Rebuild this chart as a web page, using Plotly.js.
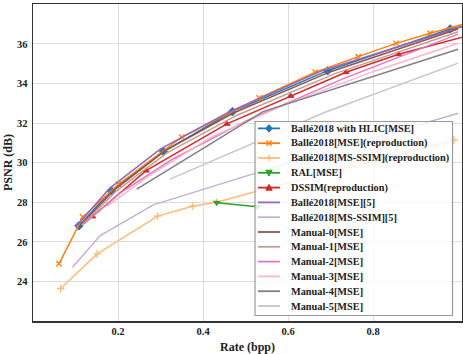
<!DOCTYPE html>
<html>
<head>
<meta charset="utf-8">
<script src="https://cdn.plot.ly/plotly-3.0.1.min.js"></script>
<style>
  html, body { margin: 0; padding: 0; background: #fff; }
  #chart { width: 463px; height: 354px; }
</style>
</head>
<body>
<div id="chart"></div>
<script>
// rate (bpp) / PSNR (dB) per method
const hlicRate = [0.108, 0.184, 0.307, 0.469, 0.693, 0.981, 1.05];
const hlicPsnr = [26.81, 28.58, 30.56, 32.58, 34.65, 36.76, 37.05];

const balleMseRate = [0.061, 0.117, 0.201, 0.350, 0.532, 0.664, 0.765, 0.854, 0.934, 1.03];
const balleMsePsnr = [24.89, 27.25, 28.91, 31.29, 33.27, 34.57, 35.36, 36.03, 36.54, 37.1];

const balleSsimRate = [0.065, 0.151, 0.293, 0.375, 0.432, 0.55, 0.75, 0.99];
const balleSsimPsnr = [23.64, 25.39, 27.30, 27.80, 28.00, 28.7, 29.8, 31.15];

const ralRate = [0.432, 0.528];
const ralPsnr = [27.98, 27.78];

const dssimRate = [0.140, 0.266, 0.456, 0.606, 0.736, 0.860, 1.02];
const dssimPsnr = [27.28, 29.60, 31.96, 33.37, 34.57, 35.48, 36.4];

const ref5MseRate = [0.100, 0.180, 0.300, 0.460, 0.680, 1.02];
const ref5MsePsnr = [26.75, 28.70, 30.70, 32.55, 34.65, 36.95];

const ref5SsimRate = [0.093, 0.158, 0.283, 0.55, 1.0];
const ref5SsimPsnr = [24.72, 26.32, 27.87, 29.65, 32.5];

const manual0Rate = [0.110, 0.190, 0.310, 0.470, 0.700, 1.0];
const manual0Psnr = [26.80, 28.60, 30.60, 32.50, 34.60, 36.76];

const manual1Rate = [0.115, 0.195, 0.315, 0.480, 0.710, 1.0];
const manual1Psnr = [26.85, 28.55, 30.50, 32.40, 34.50, 36.62];

const manual2Rate = [0.120, 0.200, 0.330, 0.500, 0.730, 1.0];
const manual2Psnr = [26.90, 28.40, 30.20, 32.10, 34.25, 36.50];

const manual3Rate = [0.173, 0.270, 0.420, 0.600, 0.800, 1.0];
const manual3Psnr = [27.78, 29.30, 31.30, 33.00, 34.60, 36.04];

const manual4Rate = [0.244, 0.541, 1.0];
const manual4Psnr = [28.66, 32.58, 35.73];

const manual5Rate = [0.322, 0.687, 1.0];
const manual5Psnr = [29.17, 32.55, 35.03];

const serif = "'Liberation Serif', 'Times New Roman', serif";
const ink = "#222222";

// name, x, y, color, marker symbol (null = plain line)
const methods = [
  ["Ballé2018 with HLIC[MSE]", hlicRate, hlicPsnr, "#1f77b4", "diamond"],
  ["Ballé2018[MSE](reproduction)", balleMseRate, balleMsePsnr, "#ff7f0e", "x"],
  ["Ballé2018[MS-SSIM](reproduction)", balleSsimRate, balleSsimPsnr, "#ffbb78", "plus"],
  ["RAL[MSE]", ralRate, ralPsnr, "#2ca02c", "triangle-down"],
  ["DSSIM(reproduction)", dssimRate, dssimPsnr, "#d62728", "triangle-up"],
  ["Ballé2018[MSE][5]", ref5MseRate, ref5MsePsnr, "#9467bd", null],
  ["Ballé2018[MS-SSIM][5]", ref5SsimRate, ref5SsimPsnr, "#c5b0d5", null],
  ["Manual-0[MSE]", manual0Rate, manual0Psnr, "#8c564b", null],
  ["Manual-1[MSE]", manual1Rate, manual1Psnr, "#c49c94", null],
  ["Manual-2[MSE]", manual2Rate, manual2Psnr, "#e377c2", null],
  ["Manual-3[MSE]", manual3Rate, manual3Psnr, "#f7b6d2", null],
  ["Manual-4[MSE]", manual4Rate, manual4Psnr, "#7f7f7f", null],
  ["Manual-5[MSE]", manual5Rate, manual5Psnr, "#c7c7c7", null],
];

function plotlySymbol(sym) {
  if (sym === "x") return "x-thin";
  if (sym === "plus") return "cross-thin";
  return sym;
}

const traces = methods.map(([name, x, y, color, sym]) => {
  const t = {
    type: "scatter",
    mode: sym ? "lines+markers" : "lines",
    name: name,
    x: x,
    y: y,
    line: { color: color, width: 1.5 },
    showlegend: false,
  };
  if (sym) {
    const thin = sym === "x" || sym === "plus";
    t.marker = {
      symbol: plotlySymbol(sym),
      size: sym === "diamond" ? 6.5 : 5.5,
      color: color,
      line: { color: color, width: thin ? 1.4 : 1 },
    };
  }
  return t;
});

// plot area in pixels, used to place the hand-made legend
const W = 463, H = 354;
const M = { l: 33, r: 1, t: 4, b: 33 };
const px = (v) => (v - M.l) / (W - M.l - M.r);
const py = (v) => (H - M.b - v) / (H - M.t - M.b);

const box = { x0: 255, y0: 121.5, x1: 452.5, y1: 315.5 };
const rowY0 = 128.4, rowStep = 14.8;
const sampleX0 = 258, sampleX1 = 280, textX = 288.5;

const shapes = [{
  type: "rect", xref: "paper", yref: "paper", layer: "above",
  x0: px(box.x0), x1: px(box.x1), y0: py(box.y1), y1: py(box.y0),
  fillcolor: "rgba(255,255,255,0.82)",
  line: { color: "#9a9a9a", width: 1.2 },
}];
const annotations = [];

function markerPath(sym, cx, cy) {
  const r = 3.2;
  const pts = {
    "diamond": [[cx, cy - 3.8], [cx + 3.2, cy], [cx, cy + 3.8], [cx - 3.2, cy]],
    "triangle-up": [[cx, cy - r], [cx + r, cy + r * 0.8], [cx - r, cy + r * 0.8]],
    "triangle-down": [[cx, cy + r], [cx + r, cy - r * 0.8], [cx - r, cy - r * 0.8]],
  }[sym];
  return "M" + pts.map(([a, b]) => px(a) + "," + py(b)).join("L") + "Z";
}

methods.forEach(([name, , , color, sym], i) => {
  const y = rowY0 + rowStep * i;
  shapes.push({
    type: "line", xref: "paper", yref: "paper", layer: "above",
    x0: px(sampleX0), x1: px(sampleX1), y0: py(y), y1: py(y),
    line: { color: color, width: 1.8 },
  });
  const cx = (sampleX0 + sampleX1) / 2;
  if (sym === "x") {
    [[-2.6, -2.6, 2.6, 2.6], [-2.6, 2.6, 2.6, -2.6]].forEach(([a, b, c, d]) => shapes.push({
      type: "line", xref: "paper", yref: "paper", layer: "above",
      x0: px(cx + a), y0: py(y + b), x1: px(cx + c), y1: py(y + d),
      line: { color: color, width: 1.4 },
    }));
  } else if (sym === "plus") {
    shapes.push({
      type: "line", xref: "paper", yref: "paper", layer: "above",
      x0: px(cx), x1: px(cx), y0: py(y - 3.2), y1: py(y + 3.2),
      line: { color: color, width: 1.4 },
    });
  } else if (sym) {
    shapes.push({
      type: "path", xref: "paper", yref: "paper", layer: "above",
      path: markerPath(sym, cx, y),
      fillcolor: color, line: { color: color, width: 1 },
    });
  }
  annotations.push({
    xref: "paper", yref: "paper",
    x: px(textX), y: py(y),
    xanchor: "left", yanchor: "middle",
    text: "<b>" + name + "</b>",
    showarrow: false,
    font: { family: serif, size: 10.3, color: ink },
  });
});

const axisCommon = {
  showgrid: true,
  gridcolor: "#dcdcdc",
  gridwidth: 1,
  zeroline: false,
  showline: true,
  linecolor: "#333333",
  linewidth: 1.5,
  mirror: true,
  ticks: "",
  tickfont: { family: serif, size: 10.5, color: ink, weight: "bold" },
};

const layout = {
  width: W,
  height: H,
  paper_bgcolor: "#ffffff",
  plot_bgcolor: "#ffffff",
  margin: M,
  font: { family: serif, color: ink },
  showlegend: false,
  xaxis: Object.assign({}, axisCommon, {
    range: [0, 1.009],
    tickvals: [0.2, 0.4, 0.6, 0.8],
    ticktext: ["0.2", "0.4", "0.6", "0.8"],
    title: { text: "<b>Rate (bpp)</b>", font: { family: serif, size: 12, color: ink }, standoff: 6 },
  }),
  yaxis: Object.assign({}, axisCommon, {
    range: [22, 38.02],
    tickvals: [24, 26, 28, 30, 32, 34, 36],
    ticklabelstandoff: 2,
    title: { text: "<b>PSNR (dB)</b>", font: { family: serif, size: 12, color: ink }, standoff: 1 },
  }),
  shapes: shapes,
  annotations: annotations,
};

Plotly.newPlot("chart", traces, layout, { displayModeBar: false, staticPlot: true });
</script>
</body>
</html>
